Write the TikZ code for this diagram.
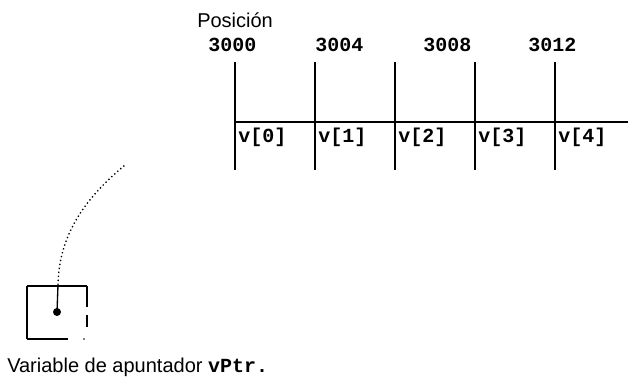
\documentclass[tikz,border=0pt]{standalone}
\usepackage{fontspec}
\setmainfont{Liberation Sans}
\setmonofont{Liberation Mono}
\begin{document}
\begin{tikzpicture}[x=0.75pt,y=-0.75pt,
    txt/.style={inner sep=0pt,anchor=base west,font=\fontsize{15}{18}\selectfont},
    code/.style={txt,font=\fontsize{15}{18}\selectfont\ttfamily\bfseries},
    wall/.style={line width=1.3pt}]
      \useasboundingbox (0,0) rectangle (628,377);
      \draw
        (197,28) node[txt] (pos){Posici\'on}
        (208,52) node[code] (a0){3000}
        (315,52) node[code] (a1){3004}
        (423,52) node[code] (a2){3008}
        (528,52) node[code] (a3){3012};
      \draw
        (238,143) node[code] (v0){v[0]}
        (318,143) node[code] (v1){v[1]}
        (398,143) node[code] (v2){v[2]}
        (478,143) node[code] (v3){v[3]}
        (558,143) node[code] (v4){v[4]};
      \begin{scope}[wall]
        \draw (235,62) to (235,170);
        \draw (315,62) to (315,170);
        \draw (395,62) to (395,170);
        \draw (475,62) to (475,170);
        \draw (555,62) to (555,170);
        \draw (235,122) to (628,122);
      \end{scope}
      % variable de apuntador
      \coordinate (top) at (58,285);
      \coordinate (tip) at (125,165);
      \begin{scope}[line width=1pt]
        \draw (27,286) to (87,286);
        \draw (27,286) to (27,339);
        \draw (27,339) to (68,339);
        \draw (87,286) to (87,307);
        \draw (87,315) to (87,327);
        \fill (84,339) circle (0.8);
      \end{scope}
      \fill (57,312) circle (4) coordinate (dot);
      \draw[line width=1pt] (dot) to (top);
      \draw[dotted,line width=1pt] (top) .. controls (59,232) and (88,196) .. (tip);
      \draw (7,373) node[txt] (cap){Variable de apuntador \texttt{\bfseries vPtr.}};
    \end{tikzpicture}
\end{document}
